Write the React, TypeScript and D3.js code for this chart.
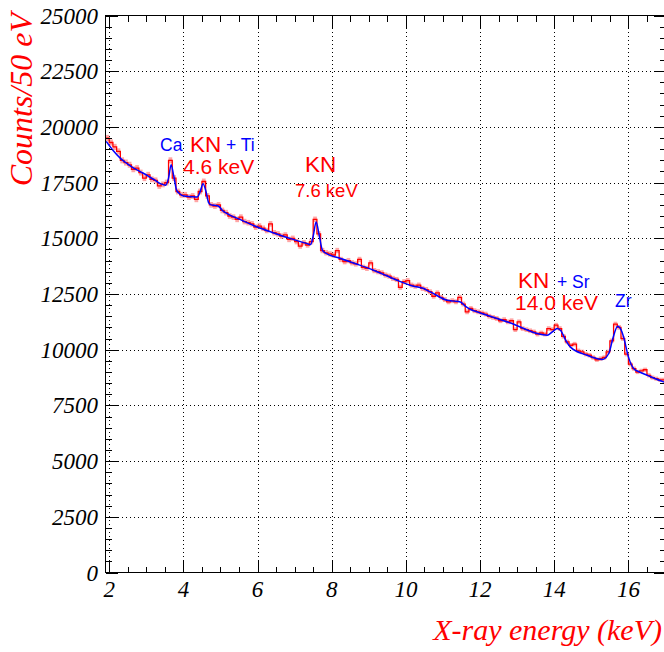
import React from 'react';
import * as d3 from 'd3';

// Histogram: counts per bin, bins of 0.1 keV starting at 1.9 keV
const HIST_START = 1.9;
const BIN_WIDTH = 0.1;
const histCounts = [
  19500, 19300, 19100, 18900, 18500, 18400, 18300, 18100, 18150, 17950,
  17700, 17850, 17650, 17600, 17350, 17420, 17500, 18500, 17700, 17100,
  16950, 16950, 16850, 16900, 16750, 17100, 17550, 16900, 16500, 16450,
  16500, 16250, 16150, 16000, 15950, 15850, 15950, 15750, 15700, 15650,
  15500, 15550, 15450, 15350, 15650, 15250, 15200, 15100, 15150, 14950,
  15000, 14850, 14650, 14800, 14700, 14850, 15850, 15200, 14450, 14350,
  14300, 14250, 14450, 14050, 13950, 14000, 13900, 13850, 14050, 13700,
  13650, 13900, 13550, 13500, 13450, 13350, 13300, 13200, 13150, 12800,
  13050, 13100, 12900, 12850, 12900, 12750, 12700, 12600, 12400, 12550,
  12350, 12250, 12150, 12200, 12150, 12350, 12050, 11700, 11850, 11750,
  11700, 11650, 11600, 11500, 11450, 11400, 11300, 11350, 11250, 11300,
  10900, 11250, 10950, 10900, 10850, 10800, 10700, 10750, 10700, 10950,
  10900, 11100, 10950, 10600, 10350, 10200, 10250, 9950, 9900, 9800,
  9750, 9650, 9550, 9600, 9650, 9900, 10400, 11150, 11000, 10500,
  9800, 9350, 9150, 9000, 9050, 9100, 8850, 8750, 8700, 8650,
  8650,
];

// Fit curve (blue)
const fitEnergy = [
  1.92, 2.1, 2.31, 2.5, 2.66, 2.85, 3.02, 3.2, 3.38, 3.52,
  3.6, 3.67, 3.74, 3.82, 3.9, 4.01, 4.2, 4.37, 4.45, 4.53,
  4.61, 4.68, 4.75, 4.85, 4.95, 5.05, 5.18, 5.54, 5.99, 6.44,
  6.89, 7.34, 7.43, 7.5, 7.58, 7.66, 7.74, 7.79, 8.24, 8.69,
  9.13, 9.45, 9.76, 10.21, 10.35, 10.48, 10.6, 10.71, 11.11, 11.3,
  11.47, 11.6, 11.7, 12.01, 12.46, 12.91, 13.18, 13.54, 13.81, 13.95,
  14.08, 14.18, 14.3, 14.43, 14.88, 15.29, 15.47, 15.58, 15.71, 15.8,
  15.87, 16.0, 16.14, 16.3, 16.5, 16.95, 17.0,
];
const fitCounts = [
  19350, 18950, 18574, 18330, 18152, 17980, 17825, 17640, 17453, 17377,
  17700, 18305, 17800, 17150, 17000, 16897, 16870, 16852, 17080, 17453,
  17100, 16600, 16500, 16480, 16440, 16250, 16108, 15838, 15507, 15238,
  14986, 14762, 14720, 15100, 15731, 15150, 14500, 14386, 14090, 13834,
  13565, 13341, 13117, 12848, 12800, 12744, 12640, 12547, 12220, 12180,
  12144, 11960, 11848, 11650, 11399, 11143, 10950, 10726, 10650, 10800,
  10951, 10850, 10450, 10126, 9753, 9560, 9829, 10500, 11054, 10900,
  10574, 9677, 9157, 9000, 8857, 8556, 8530,
];

const xMajorTicks = [2, 4, 6, 8, 10, 12, 14, 16];
const yMajorTicks = [0, 2500, 5000, 7500, 10000, 12500, 15000, 17500, 20000, 22500, 25000];

const xTitle = 'X-ray energy (keV)';
const yTitle = 'Counts/50 eV';

const annotations = [
  { text: 'Ca', px: 160, py: 151, color: 'blue', size: 17.5 },
  { text: 'KN', px: 190, py: 152, color: 'red', size: 22.5 },
  { text: '+ Ti', px: 226, py: 151, color: 'blue', size: 17.5 },
  { text: '4.6 keV', px: 183, py: 174, color: 'red', size: 21 },
  { text: 'KN', px: 305, py: 172, color: 'red', size: 22.5 },
  { text: '7.6 keV', px: 295, py: 197, color: 'red', size: 18.5 },
  { text: 'KN', px: 518, py: 288, color: 'red', size: 22.5 },
  { text: '+ Sr', px: 557, py: 288, color: 'blue', size: 17.5 },
  { text: '14.0 keV', px: 515, py: 310, color: 'red', size: 21 },
  { text: 'Zr', px: 615, py: 307, color: 'blue', size: 17.5 },
];

export default function App() {
  const W = 664, H = 652;
  const left = 105.5, right = 665.5, top = 15.5, bottom = 572.5;
  const x = d3.scaleLinear().domain([1.9, 17]).range([left, right]);
  const y = d3.scaleLinear().domain([0, 25000]).range([bottom, top]);
  const px = (v: number) => Math.round(x(v)) + 0.5;
  const py = (v: number) => Math.round(y(v)) + 0.5;

  const stepPts: [number, number][] = histCounts.map((c, i) => [HIST_START + i * BIN_WIDTH, c]);
  stepPts.push([HIST_START + histCounts.length * BIN_WIDTH, histCounts[histCounts.length - 1]]);
  const stepLine = d3.line<[number, number]>()
    .x(d => x(d[0])).y(d => y(d[1])).curve(d3.curveStepAfter);

  const fitLine = d3.line<number>()
    .x((_, i) => x(fitEnergy[i])).y(d => y(d)).curve(d3.curveMonotoneX);

  const xMinor: number[] = d3.range(2, 17.01, 0.5).filter(v => !xMajorTicks.includes(v));
  const yMinor: number[] = d3.range(0, 25001, 500).filter(v => !yMajorTicks.includes(v));

  const serif = '"Liberation Serif", "Times New Roman", serif';
  const sans = '"Liberation Sans", Arial, Helvetica, sans-serif';

  return (
    <svg width={W} height={H} style={{ position: 'absolute', left: 0, top: 0, background: 'white' }}>
      <defs>
        <clipPath id="plotclip">
          <rect x={left} y={top} width={right - left} height={bottom - top} />
        </clipPath>
      </defs>
      <rect x={0} y={0} width={W} height={H} fill="white" />
      {/* grid */}
      <g stroke="black" strokeWidth={1} strokeDasharray="1 3" shapeRendering="crispEdges">
        {xMajorTicks.map(t => (
          <line key={'gx' + t} x1={px(t)} x2={px(t)} y1={bottom} y2={top} />
        ))}
        {yMajorTicks.filter(t => t > 0 && t < 25000).map(t => (
          <line key={'gy' + t} x1={left} x2={right} y1={py(t)} y2={py(t)} />
        ))}
      </g>
      {/* histogram */}
      <g clipPath="url(#plotclip)">
        {histCounts.map((c, i) => {
          const e = Math.sqrt(c);
          const x0 = x(HIST_START + i * BIN_WIDTH);
          const x1 = x(HIST_START + (i + 1) * BIN_WIDTH);
          return (
            <rect key={'b' + i} x={x0} width={x1 - x0} y={y(c + e)} height={y(c - e) - y(c + e)}
              fill="#ff8080" fillOpacity={0.7} stroke="none" />
          );
        })}
        <path d={stepLine(stepPts) || ''} fill="none" stroke="red" strokeWidth={1.3} />
        <path d={fitLine(fitCounts) || ''} fill="none" stroke="blue" strokeWidth={1.5} />
      </g>
      {/* frame */}
      <rect x={left} y={top} width={right - left} height={bottom - top} fill="none" stroke="black" strokeWidth={1} shapeRendering="crispEdges" />
      {/* ticks */}
      <g stroke="black" strokeWidth={1} shapeRendering="crispEdges">
        {xMajorTicks.map(t => (
          <g key={'tx' + t}>
            <line x1={px(t)} x2={px(t)} y1={bottom} y2={bottom - 12} />
            <line x1={px(t)} x2={px(t)} y1={top} y2={top + 12} />
          </g>
        ))}
        {xMinor.map(t => (
          <g key={'txm' + t}>
            <line x1={px(t)} x2={px(t)} y1={bottom} y2={bottom - 6} />
            <line x1={px(t)} x2={px(t)} y1={top} y2={top + 6} />
          </g>
        ))}
        {yMajorTicks.map(t => (
          <g key={'ty' + t}>
            <line x1={left} x2={left + 12} y1={py(t)} y2={py(t)} />
            <line x1={right} x2={right - 12} y1={py(t)} y2={py(t)} />
          </g>
        ))}
        {yMinor.map(t => (
          <g key={'tym' + t}>
            <line x1={left} x2={left + 6} y1={py(t)} y2={py(t)} />
            <line x1={right} x2={right - 6} y1={py(t)} y2={py(t)} />
          </g>
        ))}
      </g>
      {/* tick labels */}
      <g fontFamily={serif} fontStyle="italic" fontSize={23} fill="black">
        {xMajorTicks.map(t => (
          <text key={'lx' + t} x={x(t)} y={597} textAnchor="middle">{t}</text>
        ))}
        {yMajorTicks.map(t => (
          <text key={'ly' + t} x={98} y={y(t)} dy="0.35em" textAnchor="end">{t}</text>
        ))}
      </g>
      {/* axis titles */}
      <text x={662} y={640} textAnchor="end" fontFamily={serif} fontStyle="italic" fontSize={30} fill="red">{xTitle}</text>
      <text transform={`translate(32, 13) rotate(-90)`} textAnchor="end" fontFamily={serif} fontStyle="italic" fontSize={32} fill="red">{yTitle}</text>
      {/* annotations */}
      {annotations.map((a, i) => (
        <text key={'a' + i} x={a.px} y={a.py} fontFamily={sans} fontSize={a.size} fill={a.color}>{a.text}</text>
      ))}
    </svg>
  );
}
